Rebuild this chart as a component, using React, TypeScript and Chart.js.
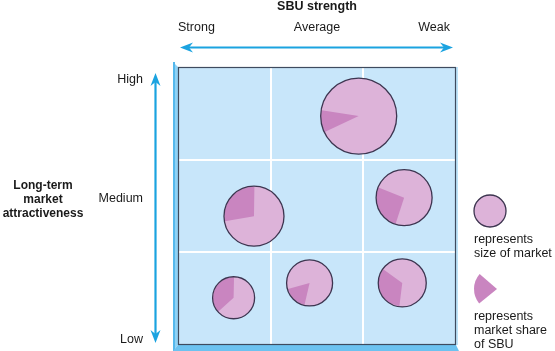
import { useEffect, useRef } from 'react';
import { Chart, registerables } from 'chart.js';

Chart.register(...registerables);

// ---- data ----
const strengthLabels = ['Strong', 'Average', 'Weak'];
const attractivenessLabels = ['High', 'Medium', 'Low'];
const xTitle = 'SBU strength';
const yTitleLines = ['Long-term', 'market', 'attractiveness'];
// grid divisions between the three columns / rows
const gridValues = [1, 2];
// 0 = strong ... 3 = weak
const sbuStrength = [1.95, 0.82, 2.44, 0.6, 1.42, 2.42];
// 0 = low ... 3 = high
const attractiveness = [2.47, 1.39, 1.59, 0.51, 0.67, 0.67];
// bubble radius ~ size of market
const marketSize = [38, 30, 28, 21, 23, 24];
// wedge share of the pie
const marketShare = [0.094, 0.28, 0.26, 0.37, 0.17, 0.33];
const shareStartDeg = [155, 170, 108, 138, 103, 97];
const legendSizeText = ['represents', 'size of market'];
const legendShareText = ['represents', 'market share', 'of SBU'];

const FONT = "'Liberation Sans', Arial, Helvetica, sans-serif";
const PINK = '#ddb3d9';
const WEDGE = '#c985c0';
const OUTLINE = '#3d3550';
const CELL = '#c8e6fa';
const BLUE = '#1ba3e0';

function arrowHead(ctx: CanvasRenderingContext2D, x: number, y: number, angle: number) {
  ctx.save();
  ctx.translate(x, y);
  ctx.rotate(angle);
  ctx.beginPath();
  ctx.moveTo(0, 0);
  ctx.lineTo(-13, -5);
  ctx.lineTo(-9, 0);
  ctx.lineTo(-13, 5);
  ctx.closePath();
  ctx.fill();
  ctx.restore();
}

function doubleArrow(ctx: CanvasRenderingContext2D, x1: number, y1: number, x2: number, y2: number) {
  const a = Math.atan2(y2 - y1, x2 - x1);
  ctx.save();
  ctx.strokeStyle = BLUE;
  ctx.fillStyle = BLUE;
  ctx.lineWidth = 2.2;
  ctx.beginPath();
  ctx.moveTo(x1 + Math.cos(a) * 8, y1 + Math.sin(a) * 8);
  ctx.lineTo(x2 - Math.cos(a) * 8, y2 - Math.sin(a) * 8);
  ctx.stroke();
  arrowHead(ctx, x2, y2, a);
  arrowHead(ctx, x1, y1, a + Math.PI);
  ctx.restore();
}

const decor = {
  id: 'matrixDecor',
  beforeDatasetsDraw(chart: any) {
    const { ctx, chartArea: ca } = chart;
    const xs = chart.scales.x;
    const ys = chart.scales.y;
    ctx.save();
    // bevel frame: left face and bottom face
    ctx.fillStyle = '#8fd2f5';
    ctx.beginPath();
    ctx.moveTo(ca.left - 5, ca.top - 5);
    ctx.lineTo(ca.left, ca.top);
    ctx.lineTo(ca.left, ca.bottom);
    ctx.lineTo(ca.left - 5, ca.bottom + 6);
    ctx.closePath();
    ctx.fill();
    ctx.fillStyle = '#55b8ec';
    ctx.fillRect(ca.left - 5, ca.top - 5, 2, ca.bottom - ca.top + 11);
    ctx.fillStyle = '#6cc2f0';
    ctx.beginPath();
    ctx.moveTo(ca.left - 5, ca.bottom + 6);
    ctx.lineTo(ca.left, ca.bottom);
    ctx.lineTo(ca.right, ca.bottom);
    ctx.lineTo(ca.right + 3, ca.bottom + 6);
    ctx.closePath();
    ctx.fill();
    ctx.fillStyle = '#bfe4f9';
    ctx.fillRect(ca.right, ca.top, 2, ca.bottom - ca.top);
    // cell background
    ctx.fillStyle = CELL;
    ctx.fillRect(ca.left, ca.top, ca.right - ca.left, ca.bottom - ca.top);
    // white grid lines from the scales
    ctx.strokeStyle = '#ffffff';
    ctx.lineWidth = 2;
    gridValues.forEach((v) => {
      const px = Math.round(xs.getPixelForValue(v));
      ctx.beginPath();
      ctx.moveTo(px, ca.top);
      ctx.lineTo(px, ca.bottom);
      ctx.stroke();
      const py = Math.round(ys.getPixelForValue(v));
      ctx.beginPath();
      ctx.moveTo(ca.left, py);
      ctx.lineTo(ca.right, py);
      ctx.stroke();
    });
    ctx.strokeStyle = '#3e4b5e';
    ctx.lineWidth = 1.2;
    ctx.strokeRect(ca.left + 0.5, ca.top + 0.5, ca.right - ca.left - 1, ca.bottom - ca.top - 1);
    ctx.restore();
  },
  afterDatasetsDraw(chart: any) {
    const { ctx, chartArea: ca } = chart;
    const meta = chart.getDatasetMeta(0);
    ctx.save();
    meta.data.forEach((el: any, i: number) => {
      const r = el.options.radius;
      const a0 = (shareStartDeg[i] * Math.PI) / 180;
      const a1 = a0 + marketShare[i] * Math.PI * 2;
      ctx.fillStyle = WEDGE;
      ctx.beginPath();
      ctx.moveTo(el.x, el.y);
      ctx.arc(el.x, el.y, r - 0.5, a0, a1);
      ctx.closePath();
      ctx.fill();
      ctx.strokeStyle = OUTLINE;
      ctx.lineWidth = 1.3;
      ctx.beginPath();
      ctx.arc(el.x, el.y, r, 0, Math.PI * 2);
      ctx.stroke();
    });

    // arrows
    doubleArrow(ctx, 180, 47.5, 453, 47.5);
    doubleArrow(ctx, 155.5, 343, 155.5, 73);

    // texts
    ctx.fillStyle = '#1a1a1a';
    ctx.textBaseline = 'alphabetic';
    ctx.font = `bold 12.5px ${FONT}`;
    ctx.textAlign = 'center';
    ctx.fillText(xTitle, (ca.left + ca.right) / 2, 10);
    ctx.font = `bold 12px ${FONT}`;
    yTitleLines.forEach((t, i) => ctx.fillText(t, 43, 189 + i * 14));

    ctx.font = `12.5px ${FONT}`;
    ctx.textAlign = 'left';
    ctx.fillText(strengthLabels[0], ca.left, 31);
    ctx.textAlign = 'center';
    ctx.fillText(strengthLabels[1], (ca.left + ca.right) / 2, 31);
    ctx.textAlign = 'right';
    ctx.fillText(strengthLabels[2], 450, 31);

    ctx.fillText(attractivenessLabels[0], 143, 83);
    ctx.fillText(attractivenessLabels[1], 143, 202);
    ctx.fillText(attractivenessLabels[2], 143, 343);

    // legend
    ctx.fillStyle = PINK;
    ctx.beginPath();
    ctx.arc(490, 211, 16, 0, Math.PI * 2);
    ctx.fill();
    ctx.strokeStyle = OUTLINE;
    ctx.lineWidth = 1.3;
    ctx.stroke();
    ctx.fillStyle = WEDGE;
    ctx.beginPath();
    ctx.moveTo(497, 289);
    ctx.arc(497, 289, 23, (141 * Math.PI) / 180, (221 * Math.PI) / 180);
    ctx.closePath();
    ctx.fill();

    ctx.fillStyle = '#1a1a1a';
    ctx.textAlign = 'left';
    ctx.font = `12.5px ${FONT}`;
    legendSizeText.forEach((t, i) => ctx.fillText(t, 474, 243 + i * 14));
    legendShareText.forEach((t, i) => ctx.fillText(t, 474, 320 + i * 14));
    ctx.restore();
  },
};

export default function App() {
  const ref = useRef<HTMLCanvasElement>(null);
  useEffect(() => {
    if (!ref.current) return;
    const chart = new Chart(ref.current, {
      type: 'bubble',
      data: {
        datasets: [
          {
            data: sbuStrength.map((x, i) => ({ x, y: attractiveness[i], r: marketSize[i] })),
            backgroundColor: PINK,
            borderColor: 'rgba(0,0,0,0)',
            borderWidth: 0,
            clip: false as any,
          },
        ],
      },
      options: {
        responsive: false,
        maintainAspectRatio: false,
        animation: false,
        events: [],
        layout: { autoPadding: false, padding: { left: 178, right: 99, top: 67, bottom: 6 } },
        plugins: { legend: { display: false }, tooltip: { enabled: false } },
        scales: {
          x: { type: 'linear', min: 0, max: 3, display: false },
          y: { type: 'linear', min: 0, max: 3, display: false },
        },
      },
      plugins: [decor],
    });
    return () => chart.destroy();
  }, []);
  return (
    <div style={{ position: 'fixed', left: 0, top: 0, width: 555, height: 351, background: '#fff' }}>
      <canvas ref={ref} width={555} height={351} style={{ width: 555, height: 351, display: 'block' }} />
    </div>
  );
}
